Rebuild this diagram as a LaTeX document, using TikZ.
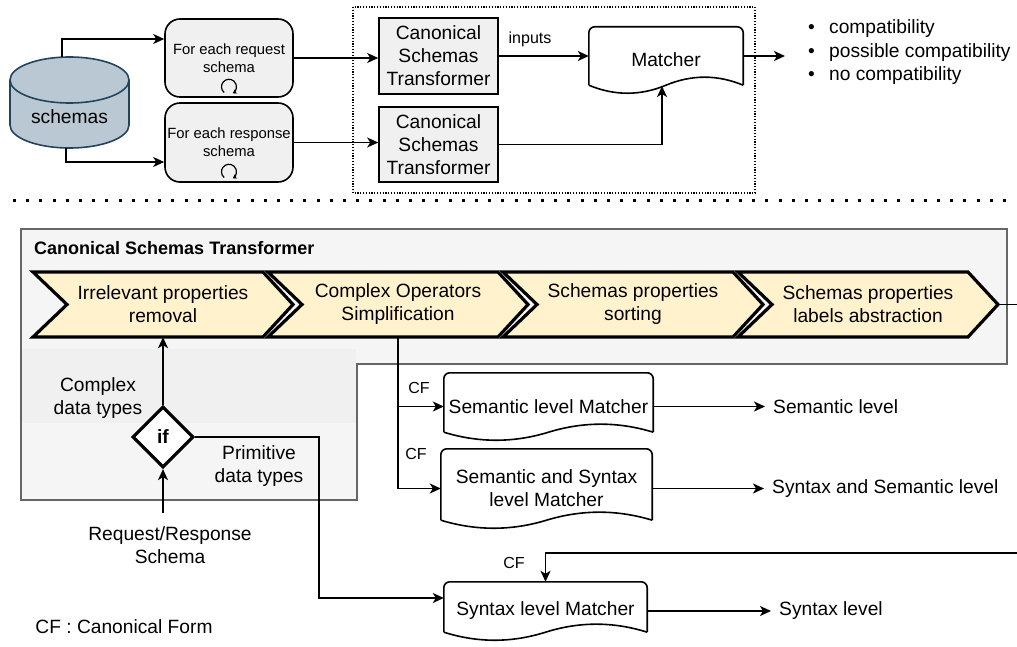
\documentclass[tikz,border=0pt]{standalone}
\usepackage{fontspec}
\setmainfont{Liberation Sans}
\usetikzlibrary{shapes.geometric,arrows.meta,calc}
\definecolor{mysteel}{RGB}{186,200,211}
\definecolor{mynavy}{RGB}{35,68,93}
\definecolor{mycream}{RGB}{255,242,204}
\definecolor{mylightgray}{RGB}{245,245,245}
\definecolor{myband}{RGB}{240,240,240}
\definecolor{myboxgray}{RGB}{240,240,240}
\definecolor{mygray}{RGB}{102,102,102}
\newcommand{\fbig}{\fontsize{19.2}{23}\selectfont}
\newcommand{\fmid}{\fontsize{16}{19}\selectfont}
\newcommand{\fsmall}{\fontsize{14.8}{18}\selectfont}
\newcommand{\docoutline}[1]{%
  \draw[line width=1.6pt, rounded corners=6pt] ($(#1.south west)+(0,-8)$) -- (#1.north west) -- (#1.north east) -- ($(#1.south east)+(0,-8)$);
  \draw[line width=1.6pt] ($(#1.south east)+(0,-8)$)
    .. controls ($(#1.south east)!0.333!(#1.south)+(0,-18.7)$) and ($(#1.south east)!0.667!(#1.south)+(0,-18.7)$) .. ($(#1.south)+(0,-8)$)
    .. controls ($(#1.south)!0.333!(#1.south west)+(0,2.7)$) and ($(#1.south)!0.667!(#1.south west)+(0,2.7)$) .. ($(#1.south west)+(0,-8)$);}

\begin{document}
\begin{tikzpicture}[x=1pt, y=-1pt,
    arr/.style={line width=1.6pt, -{Stealth[length=11pt, width=10pt, inset=3pt]}},
    loopmark/.style={line width=1.2pt, -{Stealth[length=4pt, width=5pt]}},
    roundbox/.style={draw, line width=1.6pt, fill=myboxgray, rounded corners=15pt, minimum width=128pt, minimum height=78pt, align=center, font=\fsmall, inner sep=0pt},
    cstbox/.style={draw, line width=1.6pt, fill=myboxgray, minimum width=119pt, minimum height=76pt, align=center, font=\fbig, inner sep=0pt},
    docnode/.style={align=center, font=\fbig, inner sep=0pt},
    chevfill/.style={fill=mycream, draw, line width=3.2pt},
    chevtext/.style={minimum width=260pt, minimum height=65pt, align=center, font=\fbig, inner sep=0pt},
    decision/.style={diamond, draw, line width=3.2pt, fill=white, minimum size=61pt, inner sep=0pt, font=\fbig\bfseries},
    lbl/.style={align=center, font=\fbig, inner sep=0pt},
    outtxt/.style={anchor=west, font=\fbig, inner sep=0pt},
    cflbl/.style={font=\fmid, inner sep=0pt}]
  \useasboundingbox (0,0) rectangle (1017,647);

  % top: schemas, loops, transformers, matcher
  \draw[fill=mysteel, draw=mynavy, line width=1.6pt] (10,80) -- (10,125) arc[start angle=180, end angle=0, x radius=59.5, y radius=23] -- (129,80) arc[start angle=0, end angle=-180, x radius=59.5, y radius=23] -- cycle;
  \draw[draw=mynavy, line width=1.6pt] (10,80) arc[start angle=180, end angle=0, x radius=59.5, y radius=23];
  \node[font=\fbig] (db) at (69.5,117) {schemas};
  \coordinate (dbtop) at (62,57);
  \coordinate (dbbot) at (66,148);

  \node[roundbox] (reqbox) at (229,58) {For each request\\schema};
  \node[roundbox, minimum height=79pt] (respbox) at (229,142.5) {For each response\\schema};
  \foreach \b in {reqbox, respbox}
    \draw[loopmark] ($(\b.south)+(0,-11)$) +(130:7.5) arc[start angle=130, end angle=420, radius=7.5];

  \draw[line width=1.2pt, dash pattern=on 1.2pt off 1.6pt] (353,7) rectangle (755,193);
  \node[cstbox] (cst1) at (438.5,56) {Canonical\\Schemas\\Transformer};
  \node[cstbox, minimum height=75pt] (cst2) at (438.5,144.5) {Canonical\\Schemas\\Transformer};
  \node[docnode, minimum width=154pt, minimum height=66pt] (match) at (666,60) {Matcher};
  \docoutline{match}

  \draw[arr] (dbtop) |- ([yshift=19pt]reqbox.west);
  \draw[arr] (dbbot) |- ([yshift=-19.5pt]respbox.west);
  \draw[arr] (reqbox.east) -- (reqbox.east -| cst1.west);
  \draw[arr] (respbox.east) -- (respbox.east -| cst2.west);
  \draw[arr] (cst1.east) -- (cst1.east -| match.west);
  \node[font=\fmid] (inp) at (530,39) {inputs};
  \coordinate (matchin) at (662,86);
  \draw[arr] (cst2.east) -| (matchin);
  \coordinate (outtip) at (785,56);
  \draw[arr] (match.east |- cst1.east) -- (outtip);
  \node[anchor=west, align=left, font=\fontsize{19.2}{23.5}\selectfont, inner sep=0pt] (results) at (808,52.5)
    {\makebox[21pt][l]{\textbullet}compatibility\\\makebox[21pt][l]{\textbullet}possible compatibility\\\makebox[21pt][l]{\textbullet}no compatibility};

  \draw[line width=3pt, dash pattern=on 3pt off 10.2pt] (13,201) -- (1010,201);

  % bottom: transformer steps and matchers
  \draw[fill=mylightgray, draw=mygray, line width=1.6pt] (21,229) -- (1007,229) -- (1007,364) -- (357,364) -- (357,500) -- (21,500) -- cycle;
  \fill[myband] (22,349) rectangle (356,423);
  \node[font=\fontsize{18}{21}\selectfont\bfseries, anchor=west, inner sep=0pt] (cstitle) at (34,248) {Canonical Schemas Transformer};

  \foreach \i/\x/\txt in {1/163/{Irrelevant properties\\removal}, 2/398/{Complex Operators\\Simplification}, 3/633/{Schemas properties\\sorting}, 4/868/{Schemas properties\\labels abstraction}} {
    \draw[chevfill] ({\x-130},272) -- ({\x+100},272) -- ({\x+130},304.5) -- ({\x+100},337) -- ({\x-130},337) -- ({\x-96},304.5) -- cycle;
    \node[chevtext] (chev\i) at (\x,304.5) {\txt};
  }
  \coordinate (edgeA) at (1017,304.5);
  \draw[line width=1.6pt] (chev4.east) -- (edgeA);

  \node[decision] (ifnode) at (163,437) {if};
  \draw[arr] (ifnode.north) -- (chev1.south);
  \node[lbl] (cplx) at (98,398) {Complex\\data types};
  \node[lbl] (prim) at (259,466) {Primitive\\data types};
  \node[lbl] (reqresp) at (170,545) {Request/Response\\Schema};
  \coordinate (reqin) at (163,513);
  \draw[arr] (reqin) -- (ifnode.south);
  \node[lbl] (legend) at (124,627) {CF : Canonical Form};

  \node[docnode, minimum width=209pt, minimum height=67pt] (box1) at (548.5,406.5) {Semantic level Matcher};
  \node[docnode, minimum width=211pt, minimum height=79pt] (box2) at (546.5,488.5) {Semantic and Syntax\\level Matcher};
  \node[docnode, minimum width=203pt, minimum height=58pt] (box3) at (545.5,611) {Syntax level Matcher};
  \docoutline{box1}
  \docoutline{box2}
  \docoutline{box3}

  \draw[arr] (chev2.south) |- (box2.west);
  \draw[arr] (chev2.south |- box1.west) -- (box1.west);
  \coordinate (primturn) at (319,598);
  \draw[arr] (ifnode.east) -| (primturn) -- (primturn -| box3.west);
  \coordinate (edgeB) at (1017,553);
  \draw[arr] (edgeB) -| (box3.north);
  \node[cflbl] (cf1) at (419,388) {CF};
  \node[cflbl] (cf2) at (416,453.5) {CF};
  \node[cflbl] (cf3) at (514,563) {CF};

  \node[outtxt] (lvl1) at (773,406.5) {Semantic level};
  \node[outtxt] (lvl2) at (772,488.5) {Syntax and Semantic level};
  \node[outtxt] (lvl3) at (779,611) {Syntax level};
  \draw[arr, shorten >=8pt] (box1.east) -- (lvl1.west);
  \draw[arr, shorten >=8pt] (box2.east) -- (lvl2.west);
  \draw[arr, shorten >=8pt] (box3.east) -- (lvl3.west);
\end{tikzpicture}
\end{document}
